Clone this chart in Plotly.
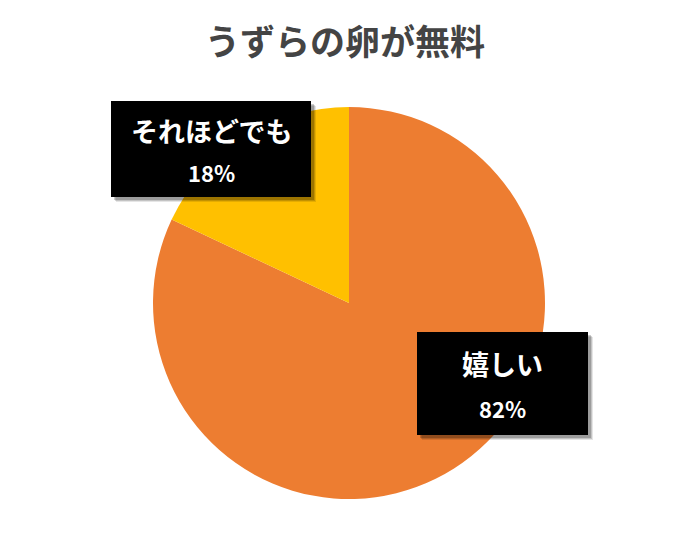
import plotly.graph_objects as go

title = "うずらの卵が無料"
labels = ["嬉しい", "それほどでも"]
values = [82, 18]
colors = ["#ED7D31", "#FFC000"]

W, H = 684, 539
cx, cy, r = 349, 303, 196

fig = go.Figure(go.Pie(
    labels=labels, values=values, sort=False, direction="clockwise", rotation=0,
    marker=dict(colors=colors, line=dict(width=0)),
    textinfo="none", hoverinfo="label+percent", showlegend=False,
    domain=dict(x=[(cx - r) / W, (cx + r) / W], y=[(H - cy - r) / H, (H - cy + r) / H]),
))

def px(x):
    return x / W

def py(y):
    return 1 - y / H

# label boxes (pixel geometry) for each slice: (x0, y0, x1, y1)
boxes = {"それほどでも": (111, 101, 311, 197), "嬉しい": (417, 332, 588, 435)}
shapes = []
annotations = []
total = sum(values)
for lab, val in zip(labels, values):
    x0, y0, x1, y1 = boxes[lab]
    # shadow
    for k, op in [(5, 0.10), (4, 0.15), (3, 0.2)]:
        shapes.append(dict(type="rect", xref="paper", yref="paper",
                           x0=px(x0 + k), x1=px(x1 + k), y0=py(y1 + k), y1=py(y0 + k),
                           fillcolor=f"rgba(0,0,0,{op})", line=dict(width=0), layer="above"))
    shapes.append(dict(type="rect", xref="paper", yref="paper",
                       x0=px(x0), x1=px(x1), y0=py(y1), y1=py(y0),
                       fillcolor="black", line=dict(width=0), layer="above"))
    xc = (x0 + x1) / 2
    h = y1 - y0
    annotations.append(dict(x=px(xc), y=py(y0 + h * 0.31), xref="paper", yref="paper",
                            text=f"<b>{lab}</b>", showarrow=False,
                            font=dict(size=27, color="white", family="Noto Sans CJK JP"),
                            xanchor="center", yanchor="middle"))
    annotations.append(dict(x=px(xc), y=py(y0 + h * 0.74), xref="paper", yref="paper",
                            text=f"<b>{round(val / total * 100)}%</b>", showarrow=False,
                            font=dict(size=22, color="white", family="Noto Sans CJK JP"),
                            xanchor="center", yanchor="middle"))

annotations.append(dict(x=px(345), y=py(39), xref="paper", yref="paper",
                        text=f"<b>{title}</b>", showarrow=False,
                        font=dict(size=35, color="#444444", family="Noto Sans CJK JP"),
                        xanchor="center", yanchor="middle"))

fig.update_layout(width=W, height=H, margin=dict(l=0, r=0, t=0, b=0),
                  paper_bgcolor="white", plot_bgcolor="white",
                  shapes=shapes, annotations=annotations)
fig.write_html("out.html")
